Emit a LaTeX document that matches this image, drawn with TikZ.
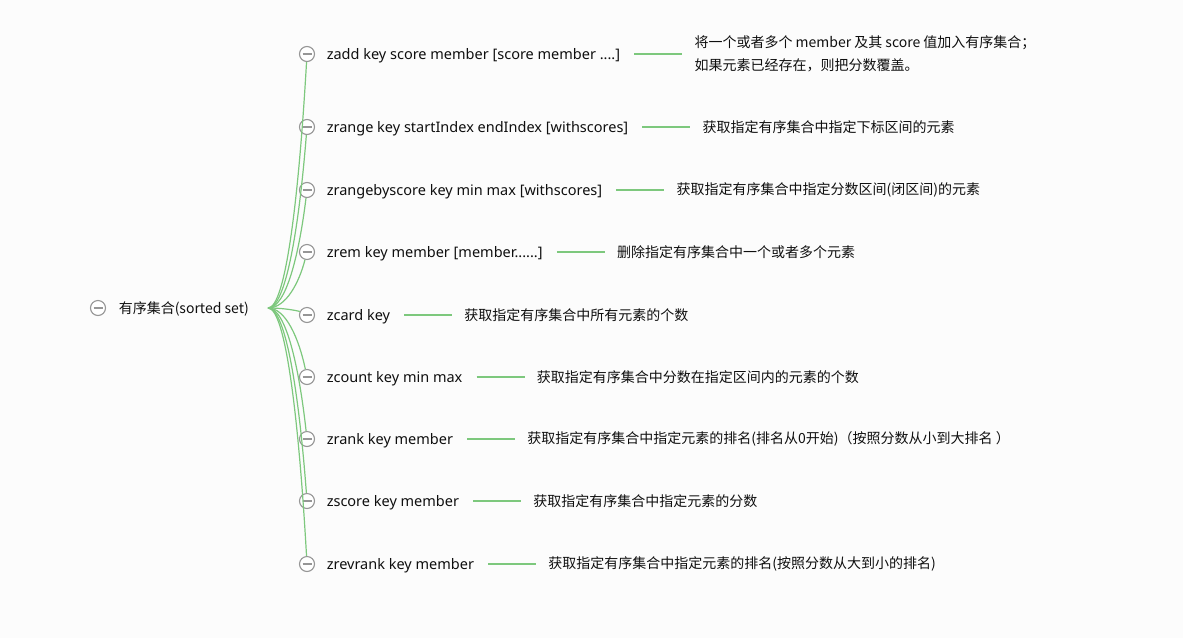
\documentclass[tikz,border=0pt]{standalone}
\usepackage{fontspec}
\setmainfont{Noto Sans}
\newfontfamily\cjk{Noto Sans CJK SC}
\usetikzlibrary{positioning}
\definecolor{bggray}{RGB}{252,252,252}
\definecolor{mapgreen}{RGB}{125,200,125}
\definecolor{knobgray}{RGB}{150,150,150}
\definecolor{ink}{RGB}{15,15,15}
\tikzset{
  knob/.style={circle,draw=knobgray,fill=white,line width=1.1pt,minimum size=15pt,inner sep=0pt,
    path picture={\draw[knobgray,line width=1.1pt] ([xshift=-4.5pt]path picture bounding box.center) -- ([xshift=4.5pt]path picture bounding box.center);}},
  cmd/.style={inner sep=0pt,text height=13.5pt,text depth=3.5pt,font=\fontsize{14.5}{17}\selectfont,text=ink},
  desc/.style={inner sep=0pt,font=\cjk\fontsize{14}{23}\selectfont,text=ink,align=left},
  branch/.style={mapgreen,line width=1.2pt},
  link/.style={mapgreen,line width=1.2pt}
}
\begin{document}
\begin{tikzpicture}[x=1pt,y=-1pt]
  \fill[bggray] (0,0) rectangle (1183,638);
  \useasboundingbox (0,0) rectangle (1183,638);

  % root
  \node[knob] (rootknob) at (98,308) {};
  \node[desc,right=12.5pt of rootknob,yshift=-1pt] (root) {有序集合(sorted set)};
  \coordinate (hub) at (268,308);

  % commands
  \node[knob] (zaddknob) at (307,54) {};
  \node[cmd,right=11.5pt of zaddknob] (zadd) {zadd key score member [score member ....]};
  \node[desc,right=74pt of zadd] (zadddesc) {将一个或者多个 member 及其 score 值加入有序集合；\\如果元素已经存在，则把分数覆盖。};

  \node[knob] (zrangeknob) at (307,127) {};
  \node[cmd,right=11.5pt of zrangeknob] (zrange) {zrange key startIndex endIndex [withscores]};
  \node[desc,right=74pt of zrange] (zrangedesc) {获取指定有序集合中指定下标区间的元素};

  \node[knob] (zrangebyscoreknob) at (307,190) {};
  \node[cmd,right=11.5pt of zrangebyscoreknob] (zrangebyscore) {zrangebyscore key min max [withscores]};
  \node[desc,right=74pt of zrangebyscore] (zrangebyscoredesc) {获取指定有序集合中指定分数区间(闭区间)的元素};

  \node[knob] (zremknob) at (307,252) {};
  \node[cmd,right=11.5pt of zremknob] (zrem) {zrem key member [member......]};
  \node[desc,right=74pt of zrem] (zremdesc) {删除指定有序集合中一个或者多个元素};

  \node[knob] (zcardknob) at (307,315) {};
  \node[cmd,right=11.5pt of zcardknob] (zcard) {zcard key};
  \node[desc,right=74pt of zcard] (zcarddesc) {获取指定有序集合中所有元素的个数};

  \node[knob] (zcountknob) at (307,377) {};
  \node[cmd,right=11.5pt of zcountknob] (zcount) {zcount key min max};
  \node[desc,right=74pt of zcount] (zcountdesc) {获取指定有序集合中分数在指定区间内的元素的个数};

  \node[knob] (zrankknob) at (307,439) {};
  \node[cmd,right=11.5pt of zrankknob] (zrank) {zrank key member};
  \node[desc,right=74pt of zrank] (zrankdesc) {获取指定有序集合中指定元素的排名(排名从0开始)（按照分数从小到大排名 ）};

  \node[knob] (zscoreknob) at (307,501) {};
  \node[cmd,right=11.5pt of zscoreknob] (zscore) {zscore key member};
  \node[desc,right=74pt of zscore] (zscoredesc) {获取指定有序集合中指定元素的分数};

  \node[knob] (zrevrankknob) at (307,564) {};
  \node[cmd,right=11.5pt of zrevrankknob] (zrevrank) {zrevrank key member};
  \node[desc,right=74pt of zrevrank] (zrevrankdesc) {获取指定有序集合中指定元素的排名(按照分数从大到小的排名)};

  % branches and links
  \foreach \n/\y in {zadd/54,zrange/127,zrangebyscore/190,zrem/252,zcard/315,zcount/377,zrank/439,zscore/501,zrevrank/564}{
    \pgfmathsetmacro\dy{0.55*(308-\y)}
    \draw[branch] (hub) .. controls +(18,0) and +(-8,\dy) .. (\n knob);
    \draw[link] ([xshift=14pt]\n.east) -- ([xshift=-12pt]\n desc.west);
  }
\end{tikzpicture}
\end{document}
